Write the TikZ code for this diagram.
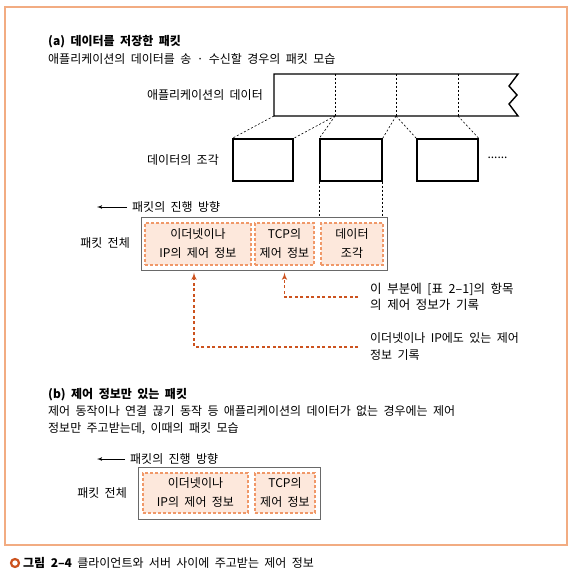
\documentclass[tikz,border=0pt]{standalone}
\usepackage{fontspec}
\setmainfont{Noto Sans CJK KR}[WordSpace = 2]
\usepackage{tikz}
\usetikzlibrary{arrows}
\usetikzlibrary{positioning}
\definecolor{frameorange}{RGB}{242,172,130}
\definecolor{boxorange}{RGB}{240,152,104}
\definecolor{boxfill}{RGB}{253,232,220}
\definecolor{notered}{RGB}{204,82,30}
\definecolor{pktgray}{RGB}{105,105,105}
\tikzset{txt/.style = {font = \fontsize{12}{17}\selectfont, inner sep = 2pt, align = left}}
\tikzset{hdtxt/.style = {font = \bfseries\fontsize{12}{15}\selectfont, inner sep = 2pt}}
\tikzset{piece/.style = {draw, line width = 1.4pt, inner sep = 0, minimum height = 42pt}}
\tikzset{cut/.style = {dash pattern = on 2pt off 2pt, line width = 0.6pt}}
\tikzset{hdr/.style = {draw = boxorange, fill = boxfill, dash pattern = on 3pt off 2pt,
                       line width = 1.1pt, inner sep = 0, align = center,
                       font = \fontsize{12}{19}\selectfont}}
\tikzset{pkt/.style = {draw = pktgray, line width = 1pt, inner sep = 0}}
\tikzset{dirarrow/.style = {line width = 0.8pt, -{latex'[scale=1.2]}, shorten <= 3pt}}
\tikzset{note/.style = {draw = notered, line width = 1.5pt, dash pattern = on 3pt off 2.5pt,
                        -{latex'[scale=1.5]}, shorten <= 10pt}}

\begin{document}
\begin{tikzpicture}[x = 1pt, y = -1pt]
  \useasboundingbox (0, 0) rectangle (572, 577);
  \draw [frameorange, line width = 1.2pt] (5, 7) rectangle (567, 545);

  % (a)
  \node [hdtxt, anchor = west] (titleA) at (46, 42) {(a) 데이터를 저장한 패킷};
  \node [txt, anchor = west] (subA) at (46, 59) {애플리케이션의 데이터를 송 · 수신할 경우의 패킷 모습};

  \coordinate (barNW) at (274, 74);
  \coordinate (barSW) at (274, 116);
  \coordinate (barNE) at (518, 74);
  \coordinate (barSE) at (518, 116);
  \draw [line width = 1.4pt, line join = miter] (barNE) -- (barNW) -- (barSW) -- (barSE)
        -- (509, 104) -- (517, 95) -- (509, 86) -- cycle;
  \foreach \x [count = \i] in {335, 396, 458} {
    \coordinate (top\i) at (\x, 74);
    \coordinate (bot\i) at (\x, 116);
    \draw [cut] (top\i) -- (bot\i);
  }
  \node [txt, anchor = east] (lblApp) at (265, 95) {애플리케이션의 데이터};

  \node [piece, minimum width = 60pt] (frag1) at (263, 160) {};
  \node [piece, minimum width = 62pt] (frag2) at (351, 160) {};
  \node [piece, minimum width = 61pt] (frag3) at (447.5, 160) {};
  \node [txt] (more) at (497.5, 158) {......};
  \node [txt, anchor = east] (lblFrag) at (221, 160) {데이터의 조각};

  \draw [cut] (barSW) -- (frag1.north west);
  \draw [cut] (bot1) -- (frag1.north east);
  \draw [cut] (bot1) -- (frag2.north west);
  \draw [cut] (bot2) -- (frag2.north east);
  \draw [cut] (bot2) -- (frag3.north west);
  \draw [cut] (bot3) -- (frag3.north east);

  \node [txt, anchor = west] (dirA) at (130, 207) {패킷의 진행 방향};
  \coordinate (dirAend) at (97, 207);
  \draw [dirarrow] (dirA.west) -- (dirAend);

  \node [pkt, minimum width = 246pt, minimum height = 53pt] (pktA) at (264, 243.5) {};
  \node [hdr, minimum width = 106pt, minimum height = 42pt] (ipA) at (198, 244) {이더넷이나\\IP의 제어 정보};
  \node [hdr, minimum width = 59pt, minimum height = 42pt] (tcpA) at (284.5, 244) {TCP의\\제어 정보};
  \node [hdr, minimum width = 62pt, minimum height = 42pt] (datA) at (352, 244) {데이터\\조각};
  \node [txt, anchor = east] (wholeA) at (132, 243) {패킷 전체};

  \draw [cut] (frag2.south west) -- (frag2.south west |- pktA.north);
  \draw [cut] (frag2.south east) -- (frag2.south east |- pktA.north);

  \node [txt, anchor = west, font = \fontsize{12.5}{16}\selectfont] (noteTcp) at (368, 297)
        {이 부분에 [표 2–1]의 항목\\의 제어 정보가 기록};
  \node [txt, anchor = west] (noteIp) at (368, 347)
        {이더넷이나 IP에도 있는 제어\\정보 기록};
  \draw [note, shorten >= 7pt] (noteTcp.west) -| (tcpA.south);
  \draw [note, shorten >= 7pt] (noteIp.west) -| ([xshift = -4pt]ipA.south);

  % (b)
  \node [hdtxt, anchor = west] (titleB) at (46, 395) {(b) 제어 정보만 있는 패킷};
  \node [txt, anchor = west] (subB) at (46, 420.5)
        {제어 동작이나 연결 끊기 동작 등 애플리케이션의 데이터가 없는 경우에는 제어\\정보만 주고받는데, 이때의 패킷 모습};

  \node [txt, anchor = west] (dirB) at (128, 459) {패킷의 진행 방향};
  \coordinate (dirBend) at (97, 459);
  \draw [dirarrow] (dirB.west) -- (dirBend);

  \node [pkt, minimum width = 182pt, minimum height = 52pt] (pktB) at (229, 493) {};
  \node [hdr, minimum width = 105pt, minimum height = 40pt] (ipB) at (195.5, 493) {이더넷이나\\IP의 제어 정보};
  \node [hdr, minimum width = 60pt, minimum height = 40pt] (tcpB) at (285, 493) {TCP의\\제어 정보};
  \node [txt, anchor = east] (wholeB) at (129, 493) {패킷 전체};

  % caption
  \node [circle, draw = notered, fill = white, line width = 2.2pt, inner sep = 0,
         minimum size = 8pt] (capMark) at (15, 563) {};
  \node [txt, anchor = west] (caption) at (21, 563)
        {\textbf{그림 2–4} 클라이언트와 서버 사이에 주고받는 제어 정보};
\end{tikzpicture}
\end{document}
